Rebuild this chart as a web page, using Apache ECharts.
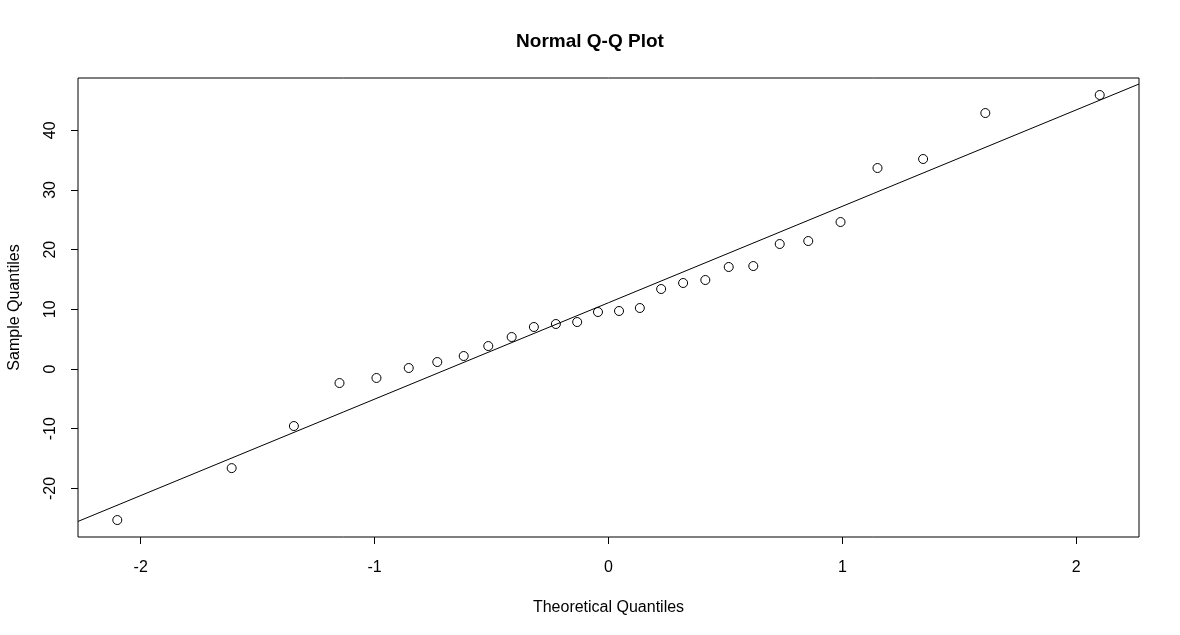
<!DOCTYPE html>
<html>
<head>
<meta charset="utf-8">
<title>Normal Q-Q Plot</title>
<script src="https://cdn.jsdelivr.net/npm/echarts@6/dist/echarts.min.js"></script>
<style>
  html, body { margin: 0; padding: 0; background: #fff; }
  #chart { width: 1180px; height: 635px; }
</style>
</head>
<body>
<div id="chart"></div>
<script>
// theoretical quantiles (x) and sample values (y)
var theoQ = [-2.100, -1.611, -1.345, -1.150, -0.992, -0.854, -0.732, -0.619, -0.514, -0.414,
  -0.319, -0.225, -0.134, -0.045, 0.045, 0.134, 0.225, 0.319, 0.414, 0.514,
  0.619, 0.732, 0.854, 0.992, 1.150, 1.345, 1.611, 2.100];
var sampleQ = [-25.3, -16.6, -9.55, -2.35, -1.5, 0.17, 1.17, 2.18, 3.85, 5.36,
  7.04, 7.54, 7.87, 9.55, 9.72, 10.22, 13.4, 14.41, 14.91, 17.09,
  17.25, 20.94, 21.44, 24.62, 33.67, 35.18, 42.88, 45.9];

// qqline, as drawn edge to edge
var lineX = [-2.268, 2.268];
var lineY = [-25.53, 47.74];

// axis ranges and ticks
var xRange = [-2.268, 2.268];
var yRange = [-28.14, 48.75];
var xTicks = [-2, -1, 0, 1, 2];
var yTicks = [-20, -10, 0, 10, 20, 30, 40];

var FONT = "'Liberation Sans', Arial, sans-serif";

var pts = [];
for (var i = 0; i < theoQ.length; i++) {
  pts.push([theoQ[i], sampleQ[i]]);
}
var linePts = [];
for (var j = 0; j < lineX.length; j++) {
  linePts.push([lineX[j], lineY[j]]);
}

var myChart = echarts.init(document.getElementById('chart'), null, { renderer: 'canvas' });
var option = {
  animation: false,
  backgroundColor: '#fff',
  title: {
    text: 'Normal Q-Q Plot',
    left: 'center',
    top: 32,
    padding: 0,
    textStyle: { fontFamily: FONT, fontSize: 19, fontWeight: 'bold', color: '#000' }
  },
  grid: {
    left: 78, top: 78, right: 41, bottom: 98,
    outerBoundsMode: 'none',
    containLabel: false,
    show: true, borderColor: '#000', borderWidth: 1, backgroundColor: 'transparent'
  },
  xAxis: {
    type: 'value',
    min: xRange[0],
    max: xRange[1],
    name: 'Theoretical Quantiles',
    nameLocation: 'middle',
    nameGap: 63,
    nameTextStyle: { fontFamily: FONT, fontSize: 16, color: '#000' },
    axisLine: { show: false, onZero: false },
    splitLine: { show: false },
    axisTick: { show: true, length: 7, customValues: xTicks, lineStyle: { color: '#000' } },
    axisLabel: { customValues: xTicks, margin: 23, fontFamily: FONT, fontSize: 16, color: '#000' }
  },
  yAxis: {
    type: 'value',
    min: yRange[0],
    max: yRange[1],
    name: 'Sample Quantiles',
    nameLocation: 'middle',
    nameGap: 55,
    nameTextStyle: { fontFamily: FONT, fontSize: 16, color: '#000' },
    axisLine: { show: false, onZero: false },
    splitLine: { show: false },
    axisTick: { show: true, length: 7, customValues: yTicks, lineStyle: { color: '#000' } },
    axisLabel: { customValues: yTicks, rotate: 90, margin: 19, fontFamily: FONT, fontSize: 16, color: '#000' }
  },
  series: [{
    type: 'scatter',
    data: pts,
    symbol: 'circle',
    symbolSize: 9,
    itemStyle: { color: 'rgba(255,255,255,0)', borderColor: '#000', borderWidth: 1, opacity: 1 },
    emphasis: { disabled: true }
  }, {
    type: 'line',
    data: linePts,
    showSymbol: false,
    symbol: 'none',
    lineStyle: { color: '#000', width: 1 },
    emphasis: { disabled: true }
  }]
};
myChart.setOption(option);
</script>
</body>
</html>
